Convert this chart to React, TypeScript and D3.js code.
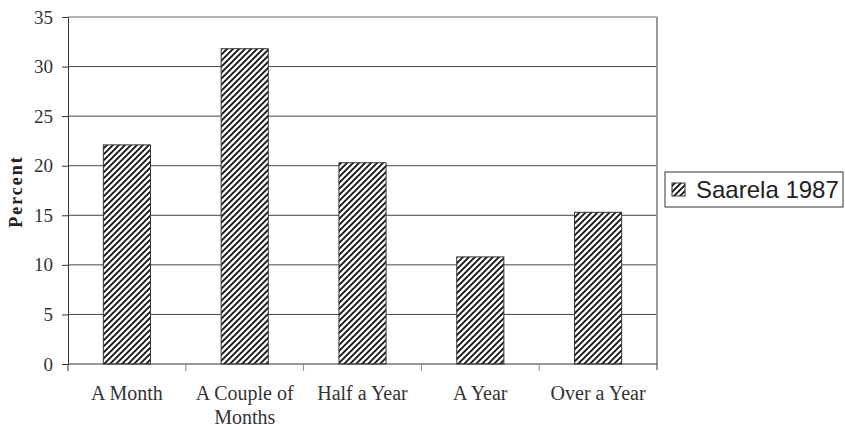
import * as d3 from 'd3';
import { useEffect, useRef } from 'react';

const categories = ['A Month', 'A Couple of Months', 'Half a Year', 'A Year', 'Over a Year'];
const labelLines = [['A Month'], ['A Couple of', 'Months'], ['Half a Year'], ['A Year'], ['Over a Year']];
const values = [22.1, 31.8, 20.3, 10.8, 15.3];
const yTicks = [0, 5, 10, 15, 20, 25, 30, 35];
const seriesName = 'Saarela 1987';

export default function App() {
  const ref = useRef<SVGSVGElement | null>(null);

  useEffect(() => {
    if (!ref.current) return;
    const svg = d3.select(ref.current);
    svg.selectAll('*').remove();

    const left = 68, right = 657, top = 17, bottom = 364;

    // "/" hatching, drawn explicitly
    const s = 6;
    const pat = svg.append('defs').append('pattern')
      .attr('id', 'hatch')
      .attr('patternUnits', 'userSpaceOnUse')
      .attr('width', s)
      .attr('height', s);
    pat.append('rect').attr('width', s).attr('height', s).attr('fill', '#fff');
    pat.append('path')
      .attr('d', `M-1,1 L1,-1 M0,${s} L${s},0 M${s - 1},${s + 1} L${s + 1},${s - 1}`)
      .attr('stroke', '#111')
      .attr('stroke-width', 1.8);

    const x = d3.scaleBand().domain(categories).range([left, right]).padding(0);
    const y = d3.scaleLinear().domain([0, 35]).range([bottom, top]);

    // gridlines
    svg.append('g')
      .selectAll('line')
      .data(yTicks.filter((t) => t > 0))
      .join('line')
      .attr('x1', left).attr('x2', right)
      .attr('y1', (d) => y(d)).attr('y2', (d) => y(d))
      .attr('stroke', (d) => (d === 35 ? '#999' : '#444'))
      .attr('stroke-width', (d) => (d === 35 ? 1.5 : 1));

    // right frame
    svg.append('line')
      .attr('x1', right).attr('x2', right)
      .attr('y1', top).attr('y2', bottom + 6)
      .attr('stroke', '#999').attr('stroke-width', 2);

    // bars
    const bw = x.bandwidth() * 0.4;
    svg.append('g')
      .selectAll('rect')
      .data(values)
      .join('rect')
      .attr('x', (_, i) => x(categories[i])! + (x.bandwidth() - bw) / 2)
      .attr('y', (d) => y(d))
      .attr('width', bw)
      .attr('height', (d) => y(0) - y(d))
      .attr('fill', 'url(#hatch)')
      .attr('stroke', '#333')
      .attr('stroke-width', 1);

    // y axis
    const ya = svg.append('g')
      .attr('transform', `translate(${left},0)`)
      .call(d3.axisLeft(y).tickValues(yTicks).tickSize(6).tickSizeOuter(0).tickPadding(9));
    ya.select('.domain').attr('stroke', '#333');
    ya.selectAll('line').attr('stroke', '#333');
    ya.selectAll('text')
      .attr('font-family', '"Liberation Serif", serif')
      .attr('font-size', 19)
      .attr('fill', '#333');

    // x axis
    const xa = svg.append('g').attr('transform', `translate(0,${bottom})`);
    xa.append('line').attr('x1', left).attr('x2', right).attr('stroke', '#333');
    const bounds = d3.range(categories.length).map((i) => left + i * x.bandwidth());
    xa.selectAll('line.tk')
      .data(bounds)
      .join('line')
      .attr('class', 'tk')
      .attr('x1', (d) => d).attr('x2', (d) => d)
      .attr('y1', 0).attr('y2', 7)
      .attr('stroke', (_, i) => (i === 0 ? '#333' : '#888'));

    const lbl = xa.selectAll('text')
      .data(labelLines)
      .join('text')
      .attr('x', (_, i) => x(categories[i])! + x.bandwidth() / 2)
      .attr('y', 36)
      .attr('text-anchor', 'middle')
      .attr('font-family', '"Liberation Serif", serif')
      .attr('font-size', 20)
      .attr('fill', '#333');
    lbl.selectAll('tspan')
      .data((d) => d)
      .join('tspan')
      .attr('x', function () {
        return (this.parentNode as SVGTextElement).getAttribute('x');
      })
      .attr('dy', (_, j) => (j === 0 ? 0 : 24))
      .text((d) => d);

    // y label
    svg.append('text')
      .attr('transform', `translate(22,${(top + bottom) / 2 + 1}) rotate(-90)`)
      .attr('text-anchor', 'middle')
      .attr('font-family', '"Liberation Serif", serif')
      .attr('font-weight', 'bold')
      .attr('font-size', 18)
      .attr('letter-spacing', 2)
      .attr('fill', '#222')
      .text('Percent');

    // legend
    const lg = svg.append('g');
    lg.append('rect')
      .attr('x', 665).attr('y', 172).attr('width', 178).attr('height', 35)
      .attr('fill', '#fff').attr('stroke', '#333').attr('stroke-width', 1);
    lg.append('rect')
      .attr('x', 672).attr('y', 183).attr('width', 13).attr('height', 13)
      .attr('fill', 'url(#hatch)').attr('stroke', '#333');
    lg.append('text')
      .attr('x', 696).attr('y', 198)
      .attr('font-family', '"Liberation Sans", Arial, sans-serif')
      .attr('font-size', 24)
      .attr('fill', '#222')
      .text(seriesName);
  }, []);

  return (
    <svg
      ref={ref}
      width={845}
      height={430}
      style={{ position: 'fixed', left: 0, top: 0, display: 'block', background: '#fff' }}
    />
  );
}
